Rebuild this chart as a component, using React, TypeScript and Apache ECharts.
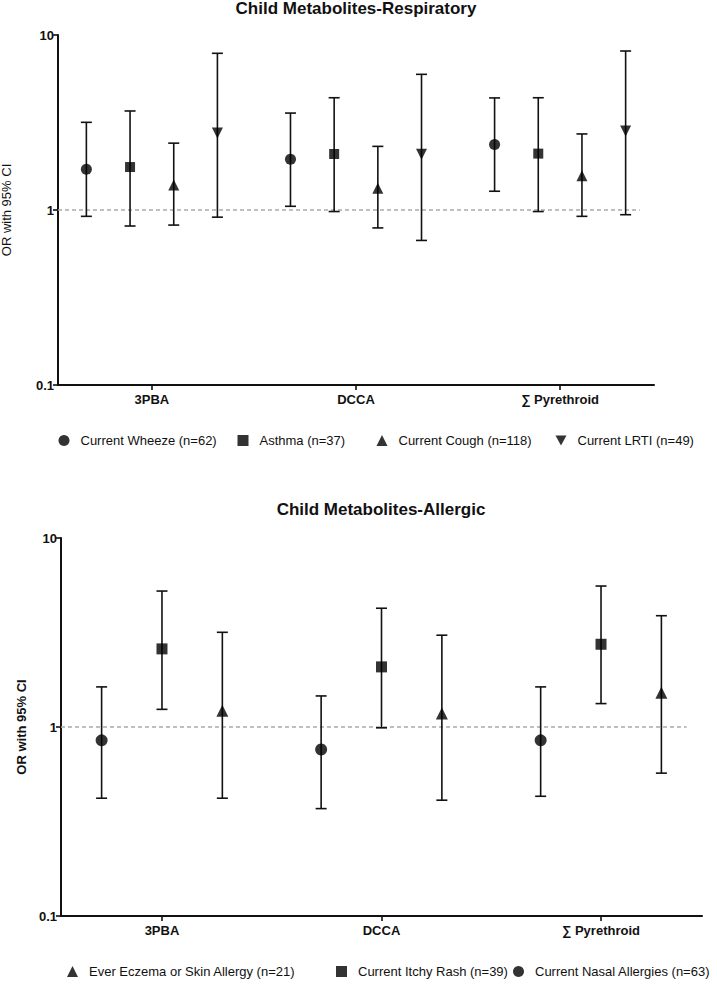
import React, { useEffect, useRef } from "react";
import * as echarts from "echarts";

const metabolites = ["3PBA", "DCCA", "\u2211 Pyrethroid"];
const yTickLabels = ["0.1", "1", "10"];

// Top panel: Child Metabolites-Respiratory
const respTitle = "Child Metabolites-Respiratory";
const respNames = ["Current Wheeze (n=62)", "Asthma (n=37)", "Current Cough (n=118)", "Current LRTI (n=49)"];
const wheezeOR = [1.71, 1.95, 2.37];
const wheezeLo = [0.92, 1.05, 1.28];
const wheezeHi = [3.17, 3.58, 4.37];
const asthmaOR = [1.76, 2.09, 2.1];
const asthmaLo = [0.81, 0.98, 0.98];
const asthmaHi = [3.68, 4.38, 4.38];
const coughOR = [1.39, 1.33, 1.57];
const coughLo = [0.82, 0.79, 0.92];
const coughHi = [2.41, 2.31, 2.72];
const lrtiOR = [2.75, 2.08, 2.83];
const lrtiLo = [0.91, 0.67, 0.94];
const lrtiHi = [7.86, 5.96, 8.1];

// Bottom panel: Child Metabolites-Allergic
const allergTitle = "Child Metabolites-Allergic";
const allergNames = ["Ever Eczema or Skin Allergy (n=21)", "Current Itchy Rash (n=39)", "Current Nasal Allergies (n=63)"];
const eczemaOR = [1.22, 1.18, 1.52];
const eczemaLo = [0.42, 0.41, 0.57];
const eczemaHi = [3.17, 3.06, 3.88];
const rashOR = [2.59, 2.08, 2.74];
const rashLo = [1.24, 0.99, 1.33];
const rashHi = [5.24, 4.25, 5.57];
const nasalOR = [0.85, 0.76, 0.85];
const nasalLo = [0.42, 0.37, 0.43];
const nasalHi = [1.63, 1.46, 1.63];

const FONT = "'Liberation Sans', Arial, sans-serif";
const INK = "#111";
const DOWN_TRI = "path://M0,0L10,0L5,9Z";

function errRender(params: any, api: any) {
  const x = api.value(0);
  const lo = api.value(1);
  const hi = api.value(2);
  const pLo = api.coord([x, lo]);
  const pHi = api.coord([x, hi]);
  const cap = 5.5;
  const st = { stroke: INK, lineWidth: 1.6 };
  return {
    type: "group",
    children: [
      { type: "line", shape: { x1: pLo[0], y1: pLo[1], x2: pHi[0], y2: pHi[1] }, style: st },
      { type: "line", shape: { x1: pHi[0] - cap, y1: pHi[1], x2: pHi[0] + cap, y2: pHi[1] }, style: st },
      { type: "line", shape: { x1: pLo[0] - cap, y1: pLo[1], x2: pLo[0] + cap, y2: pLo[1] }, style: st },
    ],
  };
}

function buildGroup(
  idx: number,
  name: string,
  or: number[],
  lo: number[],
  hi: number[],
  offset: number,
  symbol: string,
  size: number,
  rotate: number
) {
  const pts = or.map((v, i) => [i + offset, v]);
  const bars = or.map((_, i) => [i + offset, lo[i], hi[i]]);
  return [
    {
      type: "custom",
      name: name + " CI",
      xAxisIndex: idx,
      yAxisIndex: idx,
      renderItem: errRender,
      encode: { x: 0, y: [1, 2] },
      data: bars,
      z: 3,
      silent: true,
    },
    {
      type: "scatter",
      name,
      xAxisIndex: idx,
      yAxisIndex: idx,
      symbol,
      symbolSize: size,
      symbolRotate: rotate,
      itemStyle: { color: "#000" },
      data: pts,
      z: 5,
    },
  ];
}

function xAxisFor(idx: number) {
  return {
    type: "value",
    gridIndex: idx,
    min: -0.46,
    max: 2.46,
    splitLine: { show: false },
    axisLine: { show: true, onZero: false, lineStyle: { color: INK, width: 2 } },
    axisTick: { show: true, customValues: [0, 1, 2], length: 5, lineStyle: { color: INK, width: 1.6 } },
    axisLabel: {
      customValues: [0, 1, 2],
      formatter: (v: number) => metabolites[Math.round(v)] ?? "",
      color: INK,
      fontWeight: "bold",
      fontSize: 13,
      fontFamily: FONT,
      margin: 8,
    },
  };
}

function yAxisFor(idx: number, nameBold: boolean, gap: number) {
  return {
    type: "log",
    logBase: 10,
    gridIndex: idx,
    min: 0.1,
    max: 10,
    name: "OR with 95% CI",
    nameLocation: "middle",
    nameGap: gap,
    nameTextStyle: { color: INK, fontSize: 13, fontWeight: nameBold ? "bold" : "normal", fontFamily: FONT },
    splitLine: { show: false },
    minorTick: { show: false },
    axisLine: { show: true, onZero: false, lineStyle: { color: INK, width: 2 } },
    axisTick: { show: true, length: 5, lineStyle: { color: INK, width: 1.6 } },
    axisLabel: {
      color: INK,
      fontWeight: "bold",
      fontSize: 13,
      fontFamily: FONT,
      margin: 4,
      formatter: (v: number) => (v < 0.5 ? yTickLabels[0] : v < 5 ? yTickLabels[1] : yTickLabels[2]),
    },
  };
}

function refLine(idx: number) {
  return {
    type: "line",
    xAxisIndex: idx,
    yAxisIndex: idx,
    data: [
      [-0.46, 1],
      [2.39, 1],
    ],
    symbol: "none",
    silent: true,
    lineStyle: { color: "#aaa", width: 1.3, type: [4, 3] },
    z: 1,
  };
}

function legendItem(name: string, icon: string, left: number, top: number) {
  return {
    left,
    top,
    itemWidth: 11,
    itemHeight: 11,
    selectedMode: false,
    textStyle: { fontSize: 13, color: INK, fontFamily: FONT, padding: [0, 0, 0, 6] },
    data: [{ name, icon }],
  };
}

export default function App() {
  const ref = useRef<HTMLDivElement>(null);
  useEffect(() => {
    if (!ref.current) return;
    const chart = echarts.init(ref.current, undefined, { renderer: "svg" });
    const tOff = 0.214;
    const bOff = 0.275;
    const series: any[] = [
      refLine(0),
      ...buildGroup(0, respNames[0], wheezeOR, wheezeLo, wheezeHi, -1.5 * tOff, "circle", 11, 0),
      ...buildGroup(0, respNames[1], asthmaOR, asthmaLo, asthmaHi, -0.5 * tOff, "rect", 10, 0),
      ...buildGroup(0, respNames[2], coughOR, coughLo, coughHi, 0.5 * tOff, "triangle", 11, 0),
      ...buildGroup(0, respNames[3], lrtiOR, lrtiLo, lrtiHi, 1.5 * tOff, "triangle", 11, 180),
      refLine(1),
      ...buildGroup(1, allergNames[2], nasalOR, nasalLo, nasalHi, -1 * bOff, "circle", 12, 0),
      ...buildGroup(1, allergNames[1], rashOR, rashLo, rashHi, 0, "rect", 11, 0),
      ...buildGroup(1, allergNames[0], eczemaOR, eczemaLo, eczemaHi, 1 * bOff, "triangle", 12, 0),
    ];
    chart.setOption({
      animation: false,
      backgroundColor: "#fff",
      textStyle: { fontFamily: FONT, color: INK },
      grid: [
        { left: 58, right: 63, top: 35, height: 350, containLabel: false, outerBoundsMode: "none" },
        { left: 61, right: 15, top: 538, height: 378, containLabel: false, outerBoundsMode: "none" },
      ],
      xAxis: [xAxisFor(0), xAxisFor(1)],
      yAxis: [yAxisFor(0, false, 45), yAxisFor(1, true, 31)],
      legend: [
        legendItem(respNames[0], "circle", 53.5, 429),
        legendItem(respNames[1], "rect", 232.5, 429),
        legendItem(respNames[2], "triangle", 371.5, 429),
        legendItem(respNames[3], DOWN_TRI, 550.5, 429),
        legendItem(allergNames[0], "triangle", 62, 960),
        legendItem(allergNames[1], "rect", 331, 960),
        legendItem(allergNames[2], "circle", 508, 960),
      ],
      graphic: [
        {
          type: "text",
          x: 356,
          y: 8,
          style: { text: respTitle, font: "bold 17px " + FONT, fill: INK, textAlign: "center", textVerticalAlign: "middle" },
        },
        {
          type: "text",
          x: 381,
          y: 509,
          style: { text: allergTitle, font: "bold 17px " + FONT, fill: INK, textAlign: "center", textVerticalAlign: "middle" },
        },
      ],
      series,
    });
    return () => chart.dispose();
  }, []);
  return <div ref={ref} style={{ position: "absolute", left: 0, top: 0, width: 717, height: 994 }} />;
}
